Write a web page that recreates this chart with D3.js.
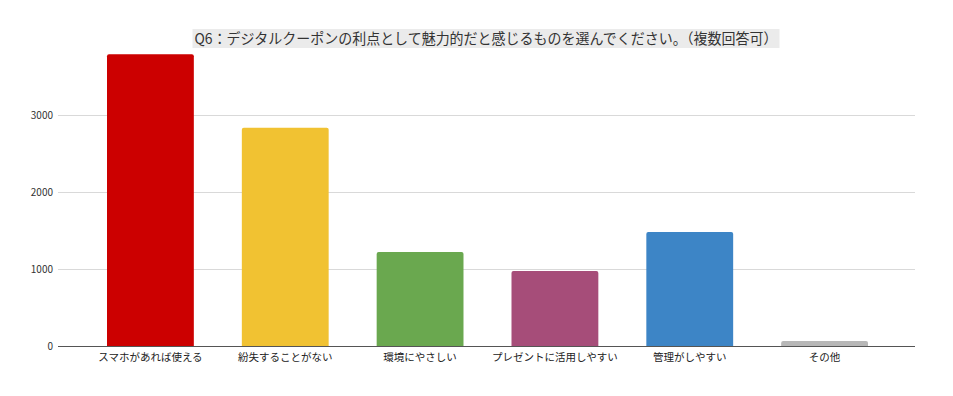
<!DOCTYPE html>
<html>
<head>
<meta charset="utf-8">
<script src="https://cdn.jsdelivr.net/npm/d3@7"></script>
<style>
  body { margin: 0; background: #fff; }
  text { font-family: "Noto Sans CJK JP", "Noto Sans", sans-serif; }
</style>
</head>
<body>
<div id="canvas"></div>
<script>
var W = 953, H = 396;

var title = 'Q6：デジタルクーポンの利点として魅力的だと感じるものを選んでください。（複数回答可）';
var categories = ['スマホがあれば使える','紛失することがない','環境にやさしい','プレゼントに活用しやすい','管理がしやすい','その他'];
var values = [3790, 2835, 1220, 975, 1480, 65];
var colors = ['#cc0000','#f1c232','#6aa84f','#a64d79','#3d85c6','#b7b7b7'];
var yTicks = [0, 1000, 2000, 3000];

var svg = d3.select('#canvas').append('svg')
    .attr('width', W).attr('height', H);

// y: 0 at 346, 1000 per 77px
var y = d3.scaleLinear().domain([0, 1000]).range([346, 269]);
var x = d3.scaleBand().domain(categories).range([83, 892]).paddingInner(0.356).paddingOuter(0.178);

var bg = svg.append('g');

// gridlines
svg.append('g').selectAll('line').data(yTicks.slice(1)).enter().append('line')
    .attr('x1', 58).attr('x2', 915)
    .attr('y1', function(d){return y(d)+0.5}).attr('y2', function(d){return y(d)+0.5})
    .style('stroke', '#d9d9d9').style('stroke-width', 1);

svg.append('g').selectAll('text').data(yTicks).enter().append('text')
    .attr('x', 53).attr('y', function(d){return y(d)+3.5})
    .attr('text-anchor', 'end')
    .style('font-size', '10px').style('fill', '#333')
    .text(function(d){return d});

// bars
svg.append('g').selectAll('path').data(values).enter().append('path')
    .attr('d', function(d, i){
        var x0 = x(categories[i]), w = x.bandwidth(), y0 = y(d), r = 2;
        return 'M' + x0 + ',346V' + (y0 + r) + 'Q' + x0 + ',' + y0 + ' ' + (x0 + r) + ',' + y0 +
               'H' + (x0 + w - r) + 'Q' + (x0 + w) + ',' + y0 + ' ' + (x0 + w) + ',' + (y0 + r) + 'V346Z';
    })
    .style('fill', function(d, i){return colors[i]});

// baseline
svg.append('line').attr('x1', 58).attr('x2', 915).attr('y1', 346.5).attr('y2', 346.5)
    .style('stroke', '#555').style('stroke-width', 1);

// category labels
svg.append('g').selectAll('text').data(categories).enter().append('text')
    .attr('x', function(d){return x(d) + x.bandwidth()/2})
    .attr('y', 361)
    .attr('text-anchor', 'middle')
    .style('font-size', '10.5px').style('fill', '#222')
    .text(function(d){return d});

// title with highlight
var t = svg.append('text').attr('x', 486).attr('y', 44)
    .attr('text-anchor', 'middle')
    .style('font-size', '14.5px').style('fill', '#333')
    .text(title);
var tw = t.node().getComputedTextLength();
if (tw > 583) t.attr('textLength', 583).attr('lengthAdjust', 'spacingAndGlyphs'), tw = 583;
bg.append('rect').attr('x', 486 - tw/2 - 2).attr('y', 29).attr('width', tw + 4).attr('height', 19)
    .style('fill', '#ebebeb');
</script>
</body>
</html>
